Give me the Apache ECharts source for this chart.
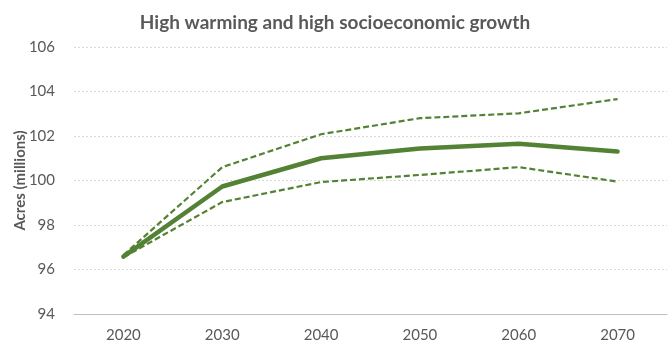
<!DOCTYPE html>
<html>
<head>
<meta charset="utf-8">
<script src="https://cdn.jsdelivr.net/npm/echarts@6/dist/echarts.min.js"></script>
<style>
  html, body { margin: 0; padding: 0; background: #fff; }
  #chart { width: 670px; height: 346px; }
</style>
</head>
<body>
<div id="chart"></div>
<script>
// Projected acreage, high warming / high socioeconomic growth scenario
const years = ['2020', '2030', '2040', '2050', '2060', '2070'];
const central = [96.58, 99.73, 101.0, 101.44, 101.65, 101.3];
const upper = [96.65, 100.6, 102.08, 102.8, 103.02, 103.66];
const lower = [96.55, 99.03, 99.93, 100.25, 100.6, 99.95];
const yTicks = [94, 96, 98, 100, 102, 104, 106];

const green = '#548235';
const textColor = '#595959';
const font = 'Lato, "Liberation Sans", sans-serif';

const chart = echarts.init(document.getElementById('chart'));
chart.setOption({
  animation: false,
  title: {
    text: 'High warming and high socioeconomic growth',
    left: 'center',
    top: 8,
    textStyle: { fontFamily: font, fontSize: 19, fontWeight: 'bold', color: textColor }
  },
  grid: { left: 74, right: 3, top: 47, bottom: 32 },
  xAxis: {
    type: 'category',
    data: years,
    boundaryGap: true,
    axisLine: { lineStyle: { color: '#bfbfbf', width: 1 } },
    axisTick: { show: false },
    axisLabel: { fontFamily: font, fontSize: 15, color: textColor, margin: 14 }
  },
  yAxis: {
    type: 'value',
    min: yTicks[0],
    max: yTicks[yTicks.length - 1],
    interval: 2,
    name: 'Acres (millions)',
    nameLocation: 'middle',
    nameGap: 46,
    nameMoveOverlap: false,
    nameTextStyle: { fontFamily: font, fontSize: 15, fontWeight: 'bold', color: textColor },
    axisLine: { show: false },
    axisTick: { show: false },
    axisLabel: { fontFamily: font, fontSize: 15, color: textColor, margin: 19 },
    splitLine: { lineStyle: { color: '#d9d9d9', type: [2, 2], width: 1 } }
  },
  series: [
    {
      name: 'Upper', type: 'line', data: upper, symbol: 'none',
      lineStyle: { color: green, width: 2.2, type: [6, 3] }
    },
    {
      name: 'Lower', type: 'line', data: lower, symbol: 'none',
      lineStyle: { color: green, width: 2.2, type: [6, 3] }
    },
    {
      name: 'Central', type: 'line', data: central, symbol: 'none',
      lineStyle: { color: green, width: 4.5, cap: 'round', join: 'round' }
    }
  ]
});
</script>
</body>
</html>
